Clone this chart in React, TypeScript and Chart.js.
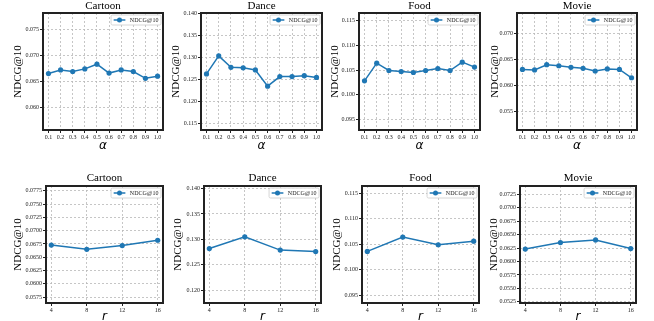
import React, { useEffect, useRef } from "react";
import { Chart, registerables } from "chart.js";

Chart.register(...registerables);

// ---------- data ----------
const alphaValues = [0.1, 0.2, 0.3, 0.4, 0.5, 0.6, 0.7, 0.8, 0.9, 1.0];
const rValues = [4, 8, 12, 16];

const cartoonAlpha = [0.0665, 0.0672, 0.0669, 0.0674, 0.0683, 0.0666, 0.0672, 0.0669, 0.0656, 0.066];
const danceAlpha = [0.1263, 0.1304, 0.1278, 0.1277, 0.1272, 0.1235, 0.1257, 0.1257, 0.1259, 0.1255];
const foodAlpha = [0.1028, 0.1064, 0.1049, 0.1047, 0.1045, 0.1049, 0.1053, 0.1049, 0.1066, 0.1056];
const movieAlpha = [0.0631, 0.063, 0.064, 0.0638, 0.0635, 0.0633, 0.0628, 0.0632, 0.0631, 0.0615];

const cartoonR = [0.0673, 0.0665, 0.0672, 0.0682];
const danceR = [0.1282, 0.1305, 0.1279, 0.1276];
const foodR = [0.1036, 0.1064, 0.1049, 0.1056];
const movieR = [0.0623, 0.0635, 0.064, 0.0624];

const yTicksCartoonAlpha = [0.06, 0.065, 0.07, 0.075];
const yTicksDanceAlpha = [0.115, 0.12, 0.125, 0.13, 0.135, 0.14];
const yTicksFoodAlpha = [0.095, 0.1, 0.105, 0.11, 0.115];
const yTicksMovieAlpha = [0.055, 0.06, 0.065, 0.07];

const yTicksCartoonR = [0.0575, 0.06, 0.0625, 0.065, 0.0675, 0.07, 0.0725, 0.075, 0.0775];
const yTicksDanceR = [0.12, 0.125, 0.13, 0.135, 0.14];
const yTicksFoodR = [0.095, 0.1, 0.105, 0.11, 0.115];
const yTicksMovieR = [0.0525, 0.055, 0.0575, 0.06, 0.0625, 0.065, 0.0675, 0.07, 0.0725];

const seriesLabel = "NDCG@10";
const yAxisLabel = "NDCG@10";

type Spec = {
  title: string;
  xs: number[];
  ys: number[];
  xLabel: string;
  xDecimals: number;
  xMin: number;
  xMax: number;
  yTicks: number[];
  yDecimals: number;
  yMin: number;
  yMax: number;
  row: number;
  box: [number, number, number, number];
  labelX: number;
};

const specs: Spec[] = [
  { title: "Cartoon", xs: alphaValues, ys: cartoonAlpha, xLabel: "α", xDecimals: 1, xMin: 0.055, xMax: 1.045, yTicks: yTicksCartoonAlpha, yDecimals: 3, yMin: 0.0557, yMax: 0.0781, row: 0, box: [43, 13, 164, 130], labelX: 18 },
  { title: "Dance", xs: alphaValues, ys: danceAlpha, xLabel: "α", xDecimals: 1, xMin: 0.055, xMax: 1.045, yTicks: yTicksDanceAlpha, yDecimals: 3, yMin: 0.1135, yMax: 0.1402, row: 0, box: [201, 13, 323, 130], labelX: 176 },
  { title: "Food", xs: alphaValues, ys: foodAlpha, xLabel: "α", xDecimals: 1, xMin: 0.055, xMax: 1.045, yTicks: yTicksFoodAlpha, yDecimals: 3, yMin: 0.0928, yMax: 0.1166, row: 0, box: [359, 13, 481, 130], labelX: 335 },
  { title: "Movie", xs: alphaValues, ys: movieAlpha, xLabel: "α", xDecimals: 1, xMin: 0.055, xMax: 1.045, yTicks: yTicksMovieAlpha, yDecimals: 3, yMin: 0.0515, yMax: 0.0739, row: 0, box: [517, 13, 638, 130], labelX: 495 },
  { title: "Cartoon", xs: rValues, ys: cartoonR, xLabel: "r", xDecimals: 0, xMin: 3.4, xMax: 16.6, yTicks: yTicksCartoonR, yDecimals: 4, yMin: 0.0564, yMax: 0.0784, row: 1, box: [46, 186, 164, 303], labelX: 18 },
  { title: "Dance", xs: rValues, ys: danceR, xLabel: "r", xDecimals: 0, xMin: 3.4, xMax: 16.6, yTicks: yTicksDanceR, yDecimals: 3, yMin: 0.1175, yMax: 0.1405, row: 1, box: [204, 186, 322, 303], labelX: 178 },
  { title: "Food", xs: rValues, ys: foodR, xLabel: "r", xDecimals: 0, xMin: 3.4, xMax: 16.6, yTicks: yTicksFoodR, yDecimals: 3, yMin: 0.0935, yMax: 0.1164, row: 1, box: [362, 186, 480, 303], labelX: 337 },
  { title: "Movie", xs: rValues, ys: movieR, xLabel: "r", xDecimals: 0, xMin: 3.4, xMax: 16.6, yTicks: yTicksMovieR, yDecimals: 4, yMin: 0.0523, yMax: 0.074, row: 1, box: [520, 186, 637, 303], labelX: 494 },
];

// ---------- styles ----------
const LINE_COLOR = "#1f77b4";
const SERIF = '"Liberation Serif", "Times New Roman", serif';
const GRID_COLOR = "#b8b8b8";
const FRAME_COLOR = "#222";

const framePlugin = {
  id: "frame",
  afterDraw(chart: any) {
    const { ctx, chartArea } = chart;
    const { left, top, right, bottom } = chartArea;
    ctx.save();
    ctx.strokeStyle = FRAME_COLOR;
    ctx.lineWidth = 2;
    ctx.strokeRect(left, top, right - left, bottom - top);
    ctx.restore();
  },
};

const insideLegendPlugin = {
  id: "insideLegend",
  afterDraw(chart: any) {
    const { ctx, chartArea } = chart;
    const ds = chart.data.datasets[0];
    ctx.save();
    ctx.font = `6px ${SERIF}`;
    const tw = ctx.measureText(ds.label).width;
    const h = 10;
    const w = 2.6 + 11.7 + 4.5 + tw + 2.6;
    const x = chartArea.right - 2 - w;
    const y = chartArea.top + 2;
    ctx.beginPath();
    if ((ctx as any).roundRect) (ctx as any).roundRect(x, y, w, h, 1.5);
    else ctx.rect(x, y, w, h);
    ctx.fillStyle = "rgba(255,255,255,0.85)";
    ctx.fill();
    ctx.strokeStyle = "#cccccc";
    ctx.lineWidth = 0.8;
    ctx.stroke();
    const cy = y + h / 2;
    ctx.strokeStyle = LINE_COLOR;
    ctx.lineWidth = 1.5;
    ctx.beginPath();
    ctx.moveTo(x + 2.6, cy);
    ctx.lineTo(x + 14.3, cy);
    ctx.stroke();
    ctx.beginPath();
    ctx.arc(x + 8.45, cy, 2.5, 0, Math.PI * 2);
    ctx.fillStyle = LINE_COLOR;
    ctx.fill();
    ctx.fillStyle = "#222";
    ctx.textBaseline = "middle";
    ctx.textAlign = "left";
    ctx.fillText(ds.label, x + 18.8, cy + 0.3);
    ctx.restore();
  },
};

function Panel({ spec }: { spec: Spec }) {
  const ref = useRef<HTMLCanvasElement>(null);
  const [l, t, r, b] = spec.box;
  const rowCfg =
    spec.row === 0
      ? { titlePadBottom: 1, th: 12, xh: 22, xTitlePad: 0 }
      : { titlePadBottom: 2, th: 13, xh: 20, xTitlePad: 0 };
  const canvasLeft = spec.labelX - 10;
  const yw = l - canvasLeft;
  const rightPad = 3;
  const width = yw + (r - l) + rightPad;
  const canvasTop = t - rowCfg.th;
  const height = rowCfg.th + (b - t) + rowCfg.xh;

  useEffect(() => {
    const canvas = ref.current;
    if (!canvas) return;
    const chart = new Chart(canvas, {
      type: "line",
      data: {
        datasets: [
          {
            label: seriesLabel,
            data: spec.xs.map((x, i) => ({ x, y: spec.ys[i] })),
            borderColor: LINE_COLOR,
            backgroundColor: LINE_COLOR,
            borderWidth: 1.5,
            pointRadius: 2.6,
            pointBorderWidth: 0,
            pointBackgroundColor: LINE_COLOR,
            tension: 0,
          },
        ],
      },
      plugins: [framePlugin, insideLegendPlugin],
      options: {
        animation: false,
        responsive: false,
        events: [],
        layout: { padding: { left: 0, right: rightPad, top: 0, bottom: 0 } },
        plugins: {
          legend: { display: false },
          tooltip: { enabled: false },
          title: {
            display: true,
            text: spec.title,
            fullSize: false,
            color: "#000",
            font: { family: SERIF, size: 11, weight: "normal", lineHeight: 1 },
            padding: { top: 0, bottom: rowCfg.titlePadBottom },
          },
        },
        scales: {
          x: {
            type: "linear",
            min: spec.xMin,
            max: spec.xMax,
            afterBuildTicks: (scale: any) => {
              scale.ticks = spec.xs.map((v) => ({ value: v }));
            },
            afterFit: (scale: any) => {
              scale.height = rowCfg.xh;
            },
            ticks: {
              autoSkip: false,
              maxRotation: 0,
              padding: 1,
              color: "#222",
              font: { family: SERIF, size: 6 },
              callback: (v: any) => Number(v).toFixed(spec.xDecimals),
            },
            grid: {
              color: GRID_COLOR,
              lineWidth: 0.8,
              tickLength: 3,
              tickColor: FRAME_COLOR,
              tickWidth: 1,
              tickBorderDash: [],
            },
            border: { display: false, dash: [2, 2] },
            title: {
              display: true,
              text: spec.xLabel,
              color: "#000",
              font: { family: '"DejaVu Sans", sans-serif', style: "italic", size: 12, lineHeight: 1 },
              padding: { top: 0, bottom: rowCfg.xTitlePad },
            },
          },
          y: {
            type: "linear",
            min: spec.yMin,
            max: spec.yMax,
            afterBuildTicks: (scale: any) => {
              scale.ticks = spec.yTicks.map((v) => ({ value: v }));
            },
            afterFit: (scale: any) => {
              scale.width = yw;
            },
            ticks: {
              autoSkip: false,
              padding: 1,
              color: "#222",
              font: { family: SERIF, size: 6 },
              callback: (v: any) => Number(v).toFixed(spec.yDecimals),
            },
            grid: {
              color: GRID_COLOR,
              lineWidth: 0.8,
              tickLength: 3,
              tickColor: FRAME_COLOR,
              tickWidth: 1,
              tickBorderDash: [],
            },
            border: { display: false, dash: [2, 2] },
            title: {
              display: true,
              text: yAxisLabel,
              color: "#000",
              font: { family: SERIF, size: 11, lineHeight: 1 },
              padding: { top: 4.5, bottom: 0 },
            },
          },
        },
      } as any,
    });
    return () => chart.destroy();
  }, []);

  return (
    <canvas
      ref={ref}
      width={width}
      height={height}
      style={{ position: "absolute", left: canvasLeft, top: canvasTop, width, height }}
    />
  );
}

export default function App() {
  return (
    <div style={{ position: "absolute", left: 0, top: 0, width: 654, height: 321, background: "#fff", overflow: "hidden" }}>
      {specs.map((s, i) => (
        <Panel key={i} spec={s} />
      ))}
    </div>
  );
}
